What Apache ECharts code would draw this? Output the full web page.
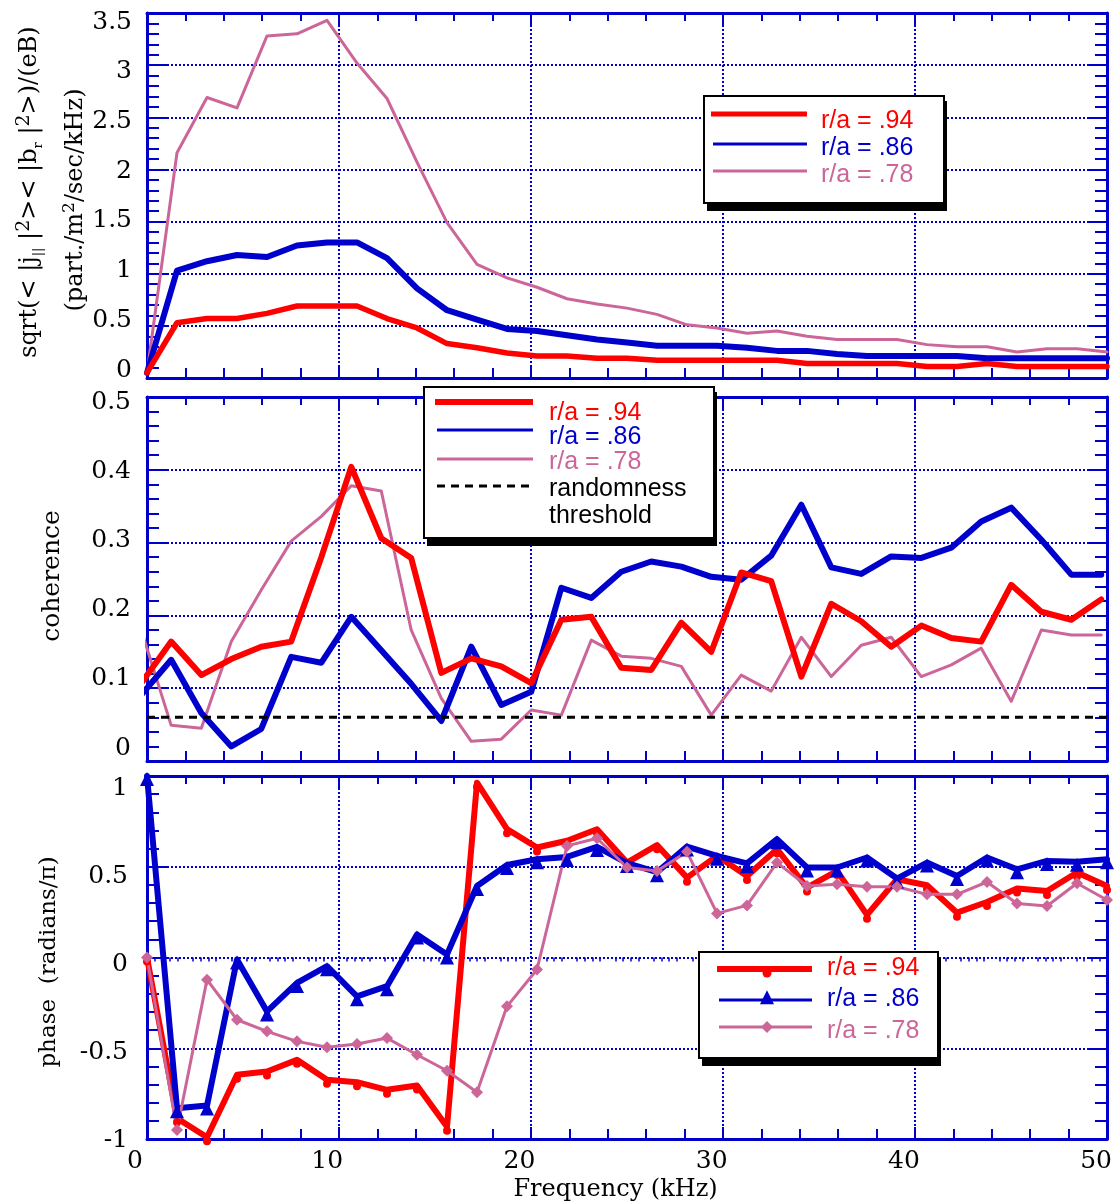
<!DOCTYPE html>
<html>
<head>
<meta charset="utf-8">
<script src="https://cdn.jsdelivr.net/npm/echarts@6/dist/echarts.min.js"></script>
<style>
html,body{margin:0;padding:0;background:#fff;}
#chart{width:1115px;height:1204px;}
</style>
</head>
<body>
<div id="chart"></div>
<script>
// ---- data ----
const freq = [0, 1.5625, 3.125, 4.6875, 6.25, 7.8125, 9.375, 10.9375, 12.5, 14.0625, 15.625, 17.1875, 18.75, 20.3125, 21.875, 23.4375, 25, 26.5625, 28.125, 29.6875, 31.25, 32.8125, 34.375, 35.9375, 37.5, 39.0625, 40.625, 42.1875, 43.75, 45.3125, 46.875, 48.4375, 50];
const freqCoh = [-0.3, 1.26, 2.83, 4.39, 5.95, 7.51, 9.08, 10.64, 12.2, 13.76, 15.33, 16.89, 18.45, 20.01, 21.58, 23.14, 24.7, 26.26, 27.83, 29.39, 30.95, 32.51, 34.08, 35.64, 37.2, 38.76, 40.33, 41.89, 43.45, 45.01, 46.58, 48.14, 49.7];

const amp94 = [0.05, 0.53, 0.57, 0.57, 0.62, 0.69, 0.69, 0.69, 0.57, 0.48, 0.33, 0.29, 0.24, 0.21, 0.21, 0.19, 0.19, 0.17, 0.17, 0.17, 0.17, 0.17, 0.14, 0.14, 0.14, 0.14, 0.11, 0.11, 0.14, 0.11, 0.11, 0.11, 0.11];
const amp86 = [0.05, 1.03, 1.12, 1.18, 1.16, 1.27, 1.30, 1.30, 1.15, 0.86, 0.65, 0.56, 0.47, 0.45, 0.41, 0.37, 0.34, 0.31, 0.31, 0.31, 0.29, 0.26, 0.26, 0.23, 0.21, 0.21, 0.21, 0.21, 0.19, 0.19, 0.19, 0.19, 0.19];
const amp78 = [0.05, 2.16, 2.69, 2.59, 3.28, 3.30, 3.43, 3.02, 2.68, 2.07, 1.49, 1.09, 0.96, 0.87, 0.76, 0.71, 0.67, 0.61, 0.51, 0.48, 0.43, 0.45, 0.40, 0.37, 0.37, 0.37, 0.32, 0.30, 0.30, 0.25, 0.28, 0.28, 0.25];

const coh94 = [0.107, 0.164, 0.118, 0.140, 0.157, 0.164, 0.28, 0.404, 0.306, 0.279, 0.121, 0.141, 0.130, 0.107, 0.194, 0.198, 0.128, 0.125, 0.190, 0.150, 0.259, 0.247, 0.116, 0.216, 0.192, 0.157, 0.186, 0.169, 0.164, 0.242, 0.205, 0.194, 0.222];
const coh86 = [0.091, 0.139, 0.066, 0.020, 0.044, 0.143, 0.135, 0.198, 0.152, 0.106, 0.055, 0.157, 0.077, 0.095, 0.238, 0.224, 0.260, 0.274, 0.267, 0.253, 0.249, 0.282, 0.352, 0.266, 0.257, 0.281, 0.279, 0.293, 0.329, 0.348, 0.304, 0.256, 0.256];
const coh78 = [0.180, 0.049, 0.045, 0.164, 0.235, 0.302, 0.336, 0.378, 0.371, 0.180, 0.086, 0.027, 0.030, 0.070, 0.063, 0.166, 0.144, 0.141, 0.130, 0.063, 0.118, 0.096, 0.170, 0.116, 0.159, 0.170, 0.116, 0.132, 0.155, 0.082, 0.180, 0.173, 0.173];
const thresholdX = [0, 50];
const thresholdY = [0.06, 0.06];

const ph94 = [0.0, -0.886, -0.99, -0.646, -0.628, -0.564, -0.674, -0.687, -0.729, -0.705, -0.932, 0.963, 0.707, 0.606, 0.643, 0.707, 0.523, 0.619, 0.44, 0.56, 0.449, 0.597, 0.385, 0.477, 0.235, 0.431, 0.398, 0.247, 0.306, 0.38, 0.366, 0.468, 0.394];
const ph86 = [1.0, -0.83, -0.816, -0.011, -0.297, -0.14, -0.048, -0.214, -0.158, 0.127, 0.017, 0.394, 0.51, 0.541, 0.554, 0.609, 0.52, 0.47, 0.611, 0.56, 0.519, 0.652, 0.496, 0.496, 0.551, 0.435, 0.523, 0.449, 0.551, 0.486, 0.532, 0.527, 0.541];
const ph78 = [0.0, -0.95, -0.122, -0.343, -0.407, -0.462, -0.495, -0.477, -0.444, -0.536, -0.624, -0.742, -0.269, -0.066, 0.615, 0.657, 0.496, 0.477, 0.582, 0.243, 0.287, 0.523, 0.394, 0.403, 0.39, 0.39, 0.348, 0.348, 0.416, 0.298, 0.284, 0.409, 0.317];

const seriesNames = ['r/a = .94', 'r/a = .86', 'r/a = .78'];
const xTitle = 'Frequency (kHz)';

// ---- style ----
const BLUE = '#0000cc', RED = '#ff0000', PINK = '#cc6699';
const SERIF = '"DejaVu Serif", serif';
const SANS = '"Liberation Sans", Arial, sans-serif';

function pairs(xs, ys) { return xs.map((x, i) => [x, ys[i]]); }

// plot frames (0-2) and label-placement grids (3-5)
const grids = [
  {left: 147, right: 8, top: 13, height: 365},
  {left: 147, right: 8, top: 397, height: 364},
  {left: 147, right: 8, top: 776, height: 363},
  {left: 147, right: 8, top: 22, height: 348},
  {left: 147, right: 8, top: 402, height: 346},
  {left: 135, right: 18, top: 788, height: 352}
];

const frameLine = {show: true, onZero: false, lineStyle: {color: BLUE, width: 3}};
const gridDots = {show: true, lineStyle: {color: BLUE, width: 2, type: [2, 2]}};
const tickFont = {color: '#000', fontFamily: SERIF, fontSize: 25};

const xAxes = [];
const yAxes = [];
for (let g = 0; g < 3; g++) {
  xAxes.push({
    type: 'value', gridIndex: g, position: 'bottom', min: 0, max: 50, interval: 10,
    axisLine: frameLine,
    axisTick: {show: true, inside: true, length: 12, lineStyle: {color: BLUE, width: 2}},
    minorTick: {show: true, splitNumber: 5, length: 10, lineStyle: {color: BLUE, width: 2}},
    splitLine: gridDots, axisLabel: {show: false}
  });
  xAxes.push({
    type: 'value', gridIndex: g, position: 'top', min: 0, max: 50, interval: 10,
    axisLine: frameLine,
    axisTick: {show: true, inside: true, length: 12, lineStyle: {color: BLUE, width: 2}},
    minorTick: {show: true, splitNumber: 5, length: 8, lineStyle: {color: BLUE, width: 2}},
    splitLine: {show: false}, axisLabel: {show: false}
  });
}
// fine comb on the lowest frequency axis (index 6)
xAxes.push({
  type: 'value', gridIndex: 2, position: 'bottom', min: 0, max: 50, interval: 2,
  axisLine: {show: false}, axisTick: {show: false},
  minorTick: {show: true, splitNumber: 5, length: 4, lineStyle: {color: BLUE, width: 1.5}},
  splitLine: {show: false}, axisLabel: {show: false}
});
// label-only x axes for label grids (7,8,9)
for (let g = 3; g < 6; g++) {
  xAxes.push({
    type: 'value', gridIndex: g, position: 'bottom', min: 0, max: 50, interval: 10,
    axisLine: {show: false}, axisTick: {show: false}, splitLine: {show: false},
    axisLabel: Object.assign({show: g === 5, margin: 9}, tickFont),
    name: g === 5 ? xTitle : '', nameLocation: 'middle', nameGap: 38,
    nameTextStyle: {color: '#000', fontFamily: SERIF, fontSize: 24}
  });
}

const yRanges = [[0, 3.5, 0.5], [0, 0.5, 0.1], [-1, 1, 0.5]];
for (let g = 0; g < 3; g++) {
  const [mn, mx, iv] = yRanges[g];
  yAxes.push({
    type: 'value', gridIndex: g, position: 'left', min: mn, max: mx, interval: iv,
    axisLine: frameLine,
    axisTick: {show: true, inside: true, length: 20, lineStyle: {color: BLUE, width: 2}},
    minorTick: {show: true, splitNumber: 5, length: 12, lineStyle: {color: BLUE, width: 2}},
    splitLine: gridDots, axisLabel: {show: false}
  });
  yAxes.push({
    type: 'value', gridIndex: g, position: 'right', min: mn, max: mx, interval: iv,
    axisLine: frameLine,
    axisTick: {show: true, inside: true, length: 20, lineStyle: {color: BLUE, width: 2}},
    minorTick: {show: true, splitNumber: 5, length: 12, lineStyle: {color: BLUE, width: 2}},
    splitLine: {show: false}, axisLabel: {show: false}
  });
}
const labelMargins = [15, 16, 7];
for (let g = 0; g < 3; g++) {
  const [mn, mx, iv] = yRanges[g];
  yAxes.push({
    type: 'value', gridIndex: g + 3, position: 'left', min: mn, max: mx, interval: iv,
    axisLine: {show: false}, axisTick: {show: false}, splitLine: {show: false},
    axisLabel: Object.assign({margin: labelMargins[g]}, tickFont)
  });
}

function line(name, xs, ys, xi, yi, color, width, extra) {
  return Object.assign({
    name: name, type: 'line', xAxisIndex: xi, yAxisIndex: yi,
    data: pairs(xs, ys), symbol: 'none', showSymbol: false,
    lineStyle: {color: color, width: width, join: 'round', cap: 'round'},
    itemStyle: {color: color}, silent: true
  }, extra || {});
}

const series = [
  // amplitude
  line(seriesNames[2], freq, amp78, 0, 0, PINK, 3),
  line(seriesNames[1], freq, amp86, 0, 0, BLUE, 6),
  line(seriesNames[0], freq, amp94, 0, 0, RED, 5.5),
  // coherence
  line(seriesNames[2], freqCoh, coh78, 2, 2, PINK, 3),
  line(seriesNames[1], freqCoh, coh86, 2, 2, BLUE, 6),
  line(seriesNames[0], freqCoh, coh94, 2, 2, RED, 6),
  line('randomness threshold', thresholdX, thresholdY, 2, 2, '#000', 3, {lineStyle: {color: '#000', width: 3, type: [8, 6]}}),
  // phase
  line(seriesNames[0], freq, ph94, 4, 4, RED, 6, {symbol: 'circle', showSymbol: true, symbolSize: 8, symbolOffset: [0, 4], clip: false}),
  line(seriesNames[1], freq, ph86, 4, 4, BLUE, 6, {symbol: 'triangle', showSymbol: true, symbolSize: 14, symbolOffset: [0, 3], clip: false}),
  line(seriesNames[2], freq, ph78, 4, 4, PINK, 3, {symbol: 'diamond', showSymbol: true, symbolSize: 12, clip: false})
];

// ---- legends & titles (graphic) ----
function box(x, y, w, h) {
  return [
    {type: 'rect', shape: {x: x + 3, y: y + 5, width: w, height: h + 3}, style: {fill: '#000'}, z: 100},
    {type: 'rect', shape: {x: x, y: y, width: w, height: h}, style: {fill: '#fff', stroke: '#000', lineWidth: 2}, z: 101}
  ];
}
function gline(x1, x2, y, color, w, dash) {
  return {type: 'line', shape: {x1: x1, y1: y, x2: x2, y2: y}, style: {stroke: color, lineWidth: w, lineDash: dash || null}, z: 102};
}
function gtext(x, y, t, color) {
  return {type: 'text', x: x, y: y, style: {text: t, fill: color, font: '25px ' + SANS, align: 'left', verticalAlign: 'middle'}, z: 102};
}
function tri(cx, cy, s, color) {
  return {type: 'polygon', shape: {points: [[cx, cy - s * 0.55], [cx + s * 0.5, cy + s * 0.45], [cx - s * 0.5, cy + s * 0.45]]}, style: {fill: color}, z: 103};
}
function diamond(cx, cy, s, color) {
  return {type: 'polygon', shape: {points: [[cx, cy - s / 2], [cx + s / 2, cy], [cx, cy + s / 2], [cx - s / 2, cy]]}, style: {fill: color}, z: 103};
}

const graphic = [].concat(
  box(704, 96, 240, 107),
  [gline(711, 807, 114, RED, 5), gline(713, 807, 144, BLUE, 3), gline(713, 807, 171, PINK, 3),
   gtext(821, 121, seriesNames[0], RED), gtext(821, 148, seriesNames[1], BLUE), gtext(821, 175, seriesNames[2], PINK)],
  box(424, 387, 290, 151),
  [gline(435, 533, 402, RED, 6), gline(437, 533, 430, BLUE, 3), gline(437, 533, 459, PINK, 3), gline(437, 533, 486, '#000', 3, [8, 6]),
   gtext(549, 413, seriesNames[0], RED), gtext(549, 437, seriesNames[1], BLUE), gtext(549, 462, seriesNames[2], PINK),
   gtext(549, 489, 'randomness', '#000'), gtext(549, 516, 'threshold', '#000')],
  box(699, 952, 239, 106),
  [gline(717, 812, 969, RED, 6), {type: 'circle', shape: {cx: 767, cy: 973, r: 4.5}, style: {fill: RED}, z: 103},
   gline(719, 812, 1000, BLUE, 3), tri(767, 998, 14, BLUE),
   gline(719, 812, 1027, PINK, 3), diamond(767, 1027, 12, PINK),
   gtext(827, 968, seriesNames[0], RED), gtext(827, 999, seriesNames[1], BLUE), gtext(827, 1031, seriesNames[2], PINK)],
  [
    {type: 'text', x: 30, y: 192, rotation: Math.PI / 2, z: 50,
     style: {text: '{n|sqrt(< |j}{sub|||}{n| |}{sup|2}{n|>< |b}{sub|r}{n| |}{sup|2}{n|>)/(eB)}', align: 'center', verticalAlign: 'middle',
       rich: {n: {fontFamily: SERIF, fontSize: 24, fill: '#000', lineHeight: 30},
              sub: {fontFamily: SERIF, fontSize: 13, fill: '#000', lineHeight: 30, verticalAlign: 'bottom'},
              sup: {fontFamily: SERIF, fontSize: 19, fill: '#000', lineHeight: 30, verticalAlign: 'top'}}}},
    {type: 'text', x: 76, y: 200, rotation: Math.PI / 2, z: 50,
     style: {text: '{n|(part./m}{sup|2}{n|/sec/kHz)}', align: 'center', verticalAlign: 'middle',
       rich: {n: {fontFamily: SERIF, fontSize: 24, fill: '#000', lineHeight: 30},
              sup: {fontFamily: SERIF, fontSize: 17, fill: '#000', lineHeight: 30, verticalAlign: 'top'}}}},
    {type: 'text', x: 52, y: 576, rotation: Math.PI / 2, z: 50,
     style: {text: 'coherence', font: '25px ' + SERIF, fill: '#000', align: 'center', verticalAlign: 'middle'}},
    {type: 'text', x: 49, y: 962, rotation: Math.PI / 2, z: 50,
     style: {text: 'phase  (radians/\u03c0)', font: '23px ' + SERIF, fill: '#000', align: 'center', verticalAlign: 'middle'}}
  ]
);

const chart = echarts.init(document.getElementById('chart'), null, {renderer: 'canvas'});
chart.setOption({
  animation: false,
  backgroundColor: '#fff',
  grid: grids,
  xAxis: xAxes,
  yAxis: yAxes,
  series: series,
  graphic: graphic
});
</script>
</body>
</html>
